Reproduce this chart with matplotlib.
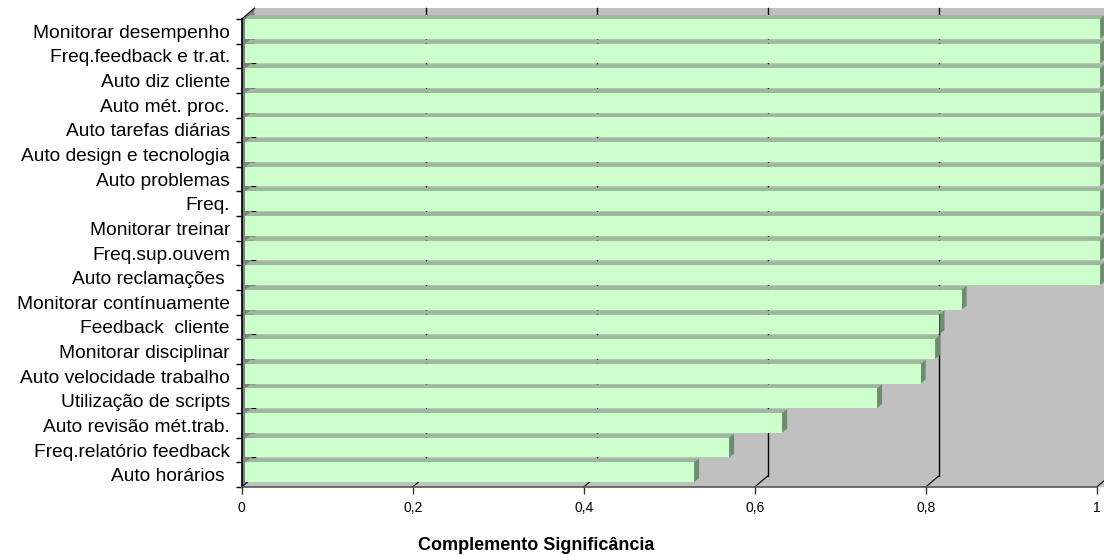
import matplotlib
matplotlib.use("Agg")
import matplotlib.pyplot as plt
from matplotlib.patches import Polygon
import matplotlib.transforms as mtransforms
import numpy as np

plt.rcParams['font.family'] = ['Liberation Sans', 'DejaVu Sans']

categories = [
    "Monitorar desempenho", "Freq.feedback e tr.at.", "Auto diz cliente",
    "Auto mét. proc.", "Auto tarefas diárias", "Auto design e tecnologia",
    "Auto problemas", "Freq.", "Monitorar treinar", "Freq.sup.ouvem",
    "Auto reclamações ", "Monitorar contínuamente", "Feedback  cliente",
    "Monitorar disciplinar", "Auto velocidade trabalho", "Utilização de scripts",
    "Auto revisão mét.trab.", "Freq.relatório feedback", "Auto horários ",
]
values = [1.0, 1.0, 1.0, 1.0, 1.0, 1.0, 1.0, 1.0, 1.0, 1.0, 1.0,
          0.838, 0.812, 0.807, 0.790, 0.739, 0.628, 0.566, 0.525]
xticks = [0, 0.2, 0.4, 0.6, 0.8, 1.0]
xticklabels = ["0", "0,2", "0,4", "0,6", "0,8", "1"]
xlabel = "Complemento Significância"

W, H = 1104, 555
fig = plt.figure(figsize=(W / 100, H / 100), dpi=100)
ax = fig.add_axes([241.7 / W, (H - 487) / H, 855 / W, (487 - 19) / H])
n = len(categories)
ax.set_xlim(0, 1)
ax.set_ylim(n - 0.5, -0.5)
ypos = np.arange(n)

bbox = ax.get_window_extent()
ux = 1.0 / bbox.width
uy = n / bbox.height


def off(dx, dy):
    """pixel offset (right, up) -> data offset"""
    return np.array([dx * ux, -dy * uy])


WALL = off(13, 11)
FRONT = off(3.5, 2.5)
DEPTH = off(5, 4)

wall_c = '#C0C0C0'
ybot, ytop = n - 0.5, -0.5
wall = Polygon([np.array([0, ybot]) + WALL, np.array([1.1, ybot]) + WALL,
                np.array([1.1, ytop]) + WALL, np.array([0, ytop]) + WALL],
               closed=True, fc=wall_c, ec='none', zorder=0.5, clip_on=False)
ax.add_patch(wall)
floor = Polygon([(0, ybot), (1.1, ybot), np.array([1.1, ybot]) + WALL,
                 np.array([0, ybot]) + WALL],
                closed=True, fc=wall_c, ec='none', zorder=0.6, clip_on=False)
ax.add_patch(floor)
side = Polygon([(0, ybot), (0, ytop), np.array([0, ytop]) + WALL,
                np.array([0, ybot]) + WALL],
               closed=True, fc='#808080', ec='none', zorder=0.7, clip_on=False)
ax.add_patch(side)

for xv in xticks:
    p1 = np.array([xv, ybot]) + WALL
    p2 = np.array([xv, ytop]) + WALL
    if xv > 0:
        ax.plot([p1[0], p2[0]], [p1[1], p2[1]], color='black', lw=1.0,
                zorder=0.8, clip_on=False)
    ax.plot([xv, p1[0]], [ybot, p1[1]], color='black', lw=0.8,
            zorder=0.8, clip_on=False)
pt = np.array([0, ytop]) + WALL
ax.plot([0, pt[0]], [ytop, pt[1]], color='black', lw=0.8, zorder=0.8, clip_on=False)

for b in np.arange(0.5, n - 1, 1.0):
    a1 = np.array([0, b]) + off(10, 5.5)
    a2 = np.array([0, b]) + off(13, 5.5)
    ax.plot([a1[0], a2[0]], [a1[1], a2[1]], color='black', lw=1.0,
            zorder=0.9, clip_on=False)

h = 0.8
front_c = '#CCFFCC'
top_c = '#99BB99'
side_c = '#6E8C6E'
for i in range(n - 1, -1, -1):
    v = values[i]
    z = 2 + (n - i) * 0.01
    y0 = ypos[i] - h / 2 + FRONT[1]
    y1 = ypos[i] + h / 2 + FRONT[1]
    x0 = 0 + FRONT[0]
    x1 = v + FRONT[0]
    topf = Polygon([(x0, y0), (x1, y0), (x1 + DEPTH[0], y0 + DEPTH[1]),
                    (x0 + DEPTH[0], y0 + DEPTH[1])], closed=True,
                   fc=top_c, ec='none', zorder=z, clip_on=False)
    sidef = Polygon([(x1, y0), (x1, y1), (x1 + DEPTH[0], y1 + DEPTH[1]),
                     (x1 + DEPTH[0], y0 + DEPTH[1])], closed=True,
                    fc=side_c, ec='none', zorder=z, clip_on=False)
    ax.add_patch(topf)
    ax.add_patch(sidef)
    tr = ax.transData + mtransforms.ScaledTranslation(3.5 / 100, 2.5 / 100, fig.dpi_scale_trans)
    ax.barh(ypos[i], v, height=h, left=0, color=front_c, edgecolor='none',
            zorder=z + 0.001, transform=tr, clip_on=False)

ax.set_xlim(0, 1)
ax.set_ylim(n - 0.5, -0.5)

for s in ['top', 'right']:
    ax.spines[s].set_visible(False)
ax.spines['left'].set_color('black')
ax.spines['left'].set_linewidth(1.2)
ax.spines['left'].set_zorder(5)
ax.spines['bottom'].set_color('#555555')
ax.spines['bottom'].set_linewidth(1.2)
ax.spines['bottom'].set_zorder(5)
ax.set_facecolor('none')

ax.set_xticks(xticks)
ax.set_xticklabels(xticklabels, fontsize=10)
ax.tick_params(axis='x', direction='out', length=5, width=1, color='#333333', pad=5)
ax.set_yticks(ypos)
ax.set_yticklabels(categories, fontsize=13.8)
ax.tick_params(axis='y', which='major', length=0, pad=8.5)
ax.set_yticks(np.arange(-0.5, n, 1.0), minor=True)
ax.tick_params(axis='y', which='minor', direction='out', length=4.5, width=1, color='black')

fig.text(536 / W, 1 - 545 / H, xlabel, ha='center', va='center',
         fontsize=13, fontweight='bold')

fig.savefig('out.png', dpi=100, facecolor='white')
